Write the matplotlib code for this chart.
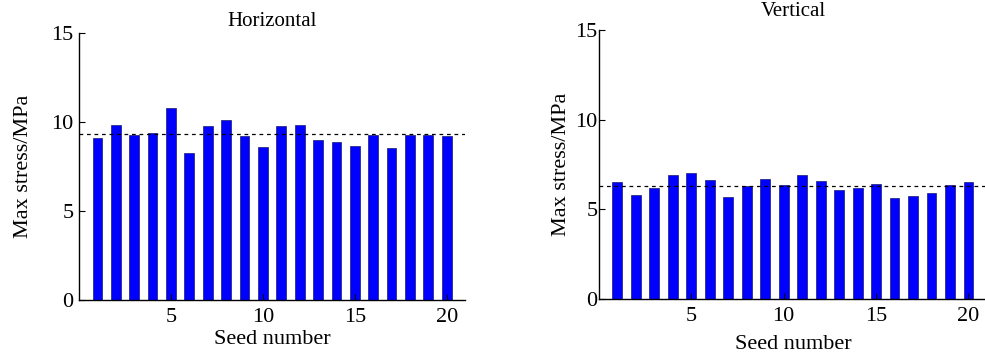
import matplotlib
matplotlib.use("Agg")
import matplotlib.pyplot as plt
import numpy as np

plt.rcParams['font.family'] = ['Liberation Serif', 'DejaVu Serif']

seeds = list(range(1, 21))
horizontal = [9.12, 9.83, 9.29, 9.39, 10.76, 8.25, 9.76, 10.11, 9.20, 8.62,
              9.76, 9.81, 9.01, 8.90, 8.64, 9.27, 8.55, 9.27, 9.24, 9.20]
vertical = [6.52, 5.81, 6.17, 6.92, 7.03, 6.65, 5.70, 6.32, 6.69, 6.34,
            6.92, 6.60, 6.09, 6.19, 6.43, 5.63, 5.76, 5.93, 6.36, 6.50]
titles = ["Horizontal", "Vertical"]
xticks = [5, 10, 15, 20]
yticks = [0, 5, 10, 15]

fig = plt.figure(figsize=(9.85, 3.58), dpi=100)
ax1 = fig.add_axes([0.0802, 0.162, 0.392, 0.746])
ax2 = fig.add_axes([0.608, 0.165, 0.394, 0.751])

settings = [(ax1, horizontal, titles[0], 5, 4, 13, 2),
            (ax2, vertical, titles[1], 10, 1, 3, 6)]
for ax, vals, title, tpad, lpad, ylpad, xlpad in settings:
    ax.bar(seeds, vals, width=0.53, color='#0000ff', edgecolor='#1a1a6e', linewidth=0.5)
    ax.axhline(np.mean(vals), color='black', linestyle=(0, (3, 3)), linewidth=0.9)
    ax.set_xlim(0, 21)
    ax.set_ylim(0, 15)
    ax.set_xticks(xticks)
    ax.set_yticks(yticks)
    ax.spines['top'].set_visible(False)
    ax.spines['right'].set_visible(False)
    ax.spines['left'].set_linewidth(1.0)
    ax.spines['bottom'].set_linewidth(1.0)
    ax.tick_params(direction='in', length=4, width=0.8, labelsize=16)
    ax.tick_params(axis='y', pad=lpad)
    ax.tick_params(axis='x', pad=6)
    ax.set_xlabel("Seed number", fontsize=16, labelpad=xlpad)
    ax.set_ylabel("Max stress/MPa", fontsize=16, labelpad=ylpad)
    ax.set_title(title, fontsize=15, pad=tpad)

fig.savefig("out.png", dpi=100)
